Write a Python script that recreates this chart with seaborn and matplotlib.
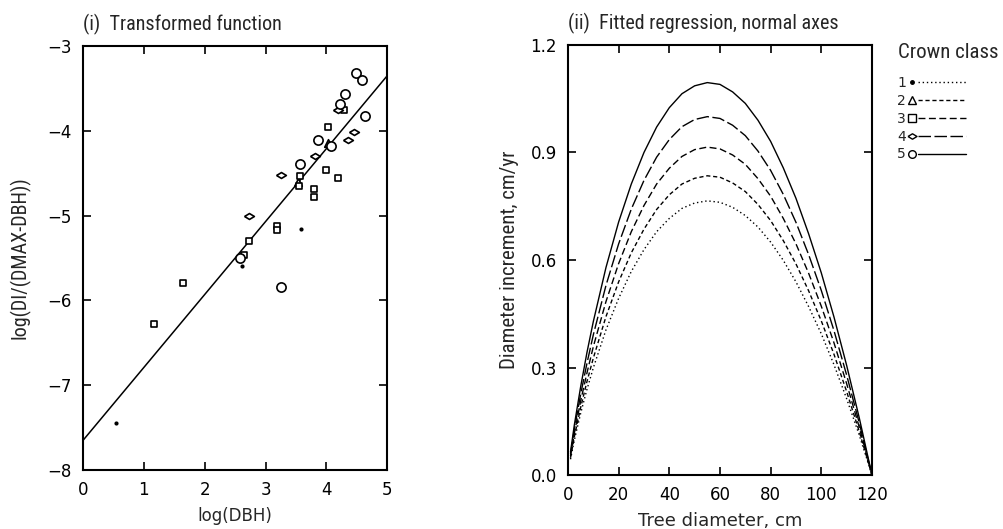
import numpy as np
import pandas as pd
import matplotlib
matplotlib.use('Agg')
import matplotlib.pyplot as plt
import seaborn as sns
from matplotlib.lines import Line2D
from matplotlib.legend_handler import HandlerBase

sns.set_style('ticks')
plt.rcParams['font.family'] = ['DejaVu Sans']
NARROW = ['Roboto Condensed', 'Noto Sans', 'Liberation Sans']

# ---------- panel (i): transformed data, by crown class ----------
c1_x = [0.55, 2.62, 3.59]
c1_y = [-7.44, -5.60, -5.16]
c2_x = [4.03, 3.54]
c2_y = [-4.14, -4.60]
c3_x = [1.17, 1.64, 2.72, 3.18, 3.18, 3.56, 3.55, 3.80, 3.79, 4.00, 4.02, 4.19, 4.29, 2.64]
c3_y = [-6.28, -5.79, -5.30, -5.12, -5.17, -4.53, -4.65, -4.69, -4.78, -4.46, -3.95, -4.56, -3.76, -5.46]
c4_x = [3.25, 2.72, 3.82, 4.35, 4.45, 4.19]
c4_y = [-4.52, -5.01, -4.30, -4.11, -4.01, -3.76]
c5_x = [4.48, 4.58, 4.30, 4.22, 4.64, 3.86, 4.08, 3.56, 3.25, 2.58]
c5_y = [-3.32, -3.40, -3.57, -3.68, -3.82, -4.11, -4.18, -4.39, -5.84, -5.50]

line_x = [0, 5]
line_y = [-7.65, -3.35]

# ---------- panel (ii): fitted curves ----------
dbh = [1, 2.5, 5, 7.5, 10, 15, 20, 25, 30, 35, 40, 45, 50, 55, 60,
       65, 70, 75, 80, 85, 90, 95, 100, 105, 110, 115, 120]
di_1 = [.044, .097, .172, .239, .299, .405, .493, .568, .629, .679, .716, .744, .759, .765,
        .761, .747, .724, .692, .650, .599, .539, .470, .394, .308, .213, .111, 0]
di_2 = [.048, .106, .188, .261, .326, .442, .539, .620, .686, .741, .782, .812, .828, .835,
        .831, .815, .791, .755, .710, .654, .589, .514, .430, .337, .233, .121, 0]
di_3 = [.053, .116, .206, .285, .358, .484, .590, .679, .752, .812, .856, .889, .908, .915,
        .910, .893, .867, .827, .778, .716, .645, .563, .471, .369, .255, .133, 0]
di_4 = [.058, .127, .225, .312, .391, .529, .645, .742, .822, .887, .936, .972, .992, 1.000,
        .995, .976, .947, .904, .850, .783, .705, .615, .515, .403, .279, .145, 0]
di_5 = [.064, .139, .246, .342, .428, .579, .706, .812, .900, .971, 1.025, 1.064, 1.086, 1.095,
        1.090, 1.069, 1.037, .990, .931, .857, .772, .673, .564, .441, .306, .159, 0]

classes = ['1', '2', '3', '4', '5']
# flattened diamond, like the plotter's symbol
flat_diamond = [(-1, 0), (0, 0.6), (1, 0), (0, -0.6), (-1, 0)]
markers = {'1': 'o', '2': '^', '3': 's', '4': flat_diamond, '5': 'o'}
msizes = {'1': 9, '2': 30, '3': 24, '4': 50, '5': 44}
dashes = {'1': (1, 2), '2': (3, 2), '3': (5, 2.5), '4': (9, 2.5), '5': ''}

pts = pd.concat([
    pd.DataFrame({'x': xs, 'y': ys, 'cls': c})
    for c, xs, ys in zip(classes, [c1_x, c2_x, c3_x, c4_x, c5_x], [c1_y, c2_y, c3_y, c4_y, c5_y])
])
curves = pd.concat([
    pd.DataFrame({'dbh': dbh, 'di': d, 'cls': c})
    for c, d in zip(classes, [di_1, di_2, di_3, di_4, di_5])
])


class MarkThenLine(HandlerBase):
    # small symbol at the left, line sample to its right (as on the plotter legend)
    def create_artists(self, legend, orig_handle, xdescent, ydescent,
                       width, height, fontsize, trans):
        mk, ln = orig_handle
        y = height / 2 - ydescent
        x0 = -xdescent
        m = Line2D([x0 + 0.07 * width], [y])
        m.update_from(mk)
        m.set_linestyle('none')
        l = Line2D([x0 + 0.17 * width, x0 + width], [y, y])
        l.update_from(ln)
        l.set_marker('')
        m.set_transform(trans)
        l.set_transform(trans)
        return [m, l]


fig = plt.figure(figsize=(10.04, 5.29), dpi=100)
ax1 = fig.add_axes([0.0827, 0.1115, 0.303, 0.8015])
ax2 = fig.add_axes([0.5657, 0.102, 0.3028, 0.813])

# left panel
for c in classes:
    sub = pts[pts['cls'] == c]
    if c == '1':
        sns.scatterplot(data=sub, x='x', y='y', marker='o', s=msizes[c], color='black',
                        edgecolor='black', linewidth=0, ax=ax1, legend=False)
    else:
        sns.scatterplot(data=sub, x='x', y='y', marker=markers[c], s=msizes[c], color='white',
                        edgecolor='black', linewidth=1.2, ax=ax1, legend=False, zorder=3)
sns.lineplot(x=line_x, y=line_y, color='black', lw=1.1, ax=ax1)
ax1.set_xlim(0, 5)
ax1.set_ylim(-8, -3)
ax1.set_xticks(range(0, 6))
ax1.set_yticks(range(-8, -2))
ax1.set_xlabel('log(DBH)', fontsize=12, labelpad=6)
ax1.set_ylabel('log(DI/(DMAX-DBH))', fontsize=14.5, family=NARROW, fontstretch='condensed',
               labelpad=12)
ax1.set_title('(i)  Transformed function', loc='left', fontsize=14.5, family=NARROW,
              fontstretch='condensed', pad=11)

# right panel
sns.lineplot(data=curves, x='dbh', y='di', style='cls', dashes=dashes, color='black',
             lw=1.0, ax=ax2, legend=False)
ax2.set_xlim(0, 120)
ax2.set_ylim(0, 1.2)
ax2.set_xticks(range(0, 121, 20))
ax2.set_yticks([0, 0.3, 0.6, 0.9, 1.2])
ax2.set_yticklabels(['0.0', '0.3', '0.6', '0.9', '1.2'])
ax2.set_xlabel('Tree diameter, cm', fontsize=13, labelpad=6)
ax2.set_ylabel('Diameter increment, cm/yr', fontsize=15, family=NARROW,
               fontstretch='condensed', labelpad=8)
ax2.set_title('(ii)  Fitted regression, normal axes', loc='left', fontsize=14.5, family=NARROW,
              fontstretch='condensed', pad=11)

for ax in (ax1, ax2):
    ax.tick_params(direction='in', top=True, right=True, length=6, width=1.2,
                   labelsize=12, pad=8, colors='black')
    for sp in ax.spines.values():
        sp.set_linewidth(1.5)
        sp.set_color('black')
        sp.set_visible(True)

# legend: number, symbol, line sample
fig.text(898 / 1004, 1 - 53 / 529, 'Crown class', family=NARROW, fontstretch='condensed',
         fontsize=15, ha='left', va='center')
handles = []
for c in classes:
    if c == '1':
        mk = Line2D([], [], marker='o', ms=2.5, color='black', ls='none')
    else:
        mk = Line2D([], [], marker=markers[c], ms=6.5 if c == '4' else 5.5,
                    mfc='white', mec='black', mew=1, ls='none')
    ln = Line2D([], [], color='black', lw=1.0,
                ls=(0, dashes[c]) if dashes[c] else '-')
    handles.append((mk, ln))
leg = fig.legend(handles=handles, labels=classes, markerfirst=False,
                 handler_map={tuple: MarkThenLine()},
                 loc='upper left', bbox_to_anchor=(890 / 1004, 1 - 69 / 529), frameon=False,
                 fontsize=10, handlelength=4.2, handletextpad=0.15,
                 labelspacing=0.28, borderpad=0)

fig.savefig('out.png', dpi=100)
